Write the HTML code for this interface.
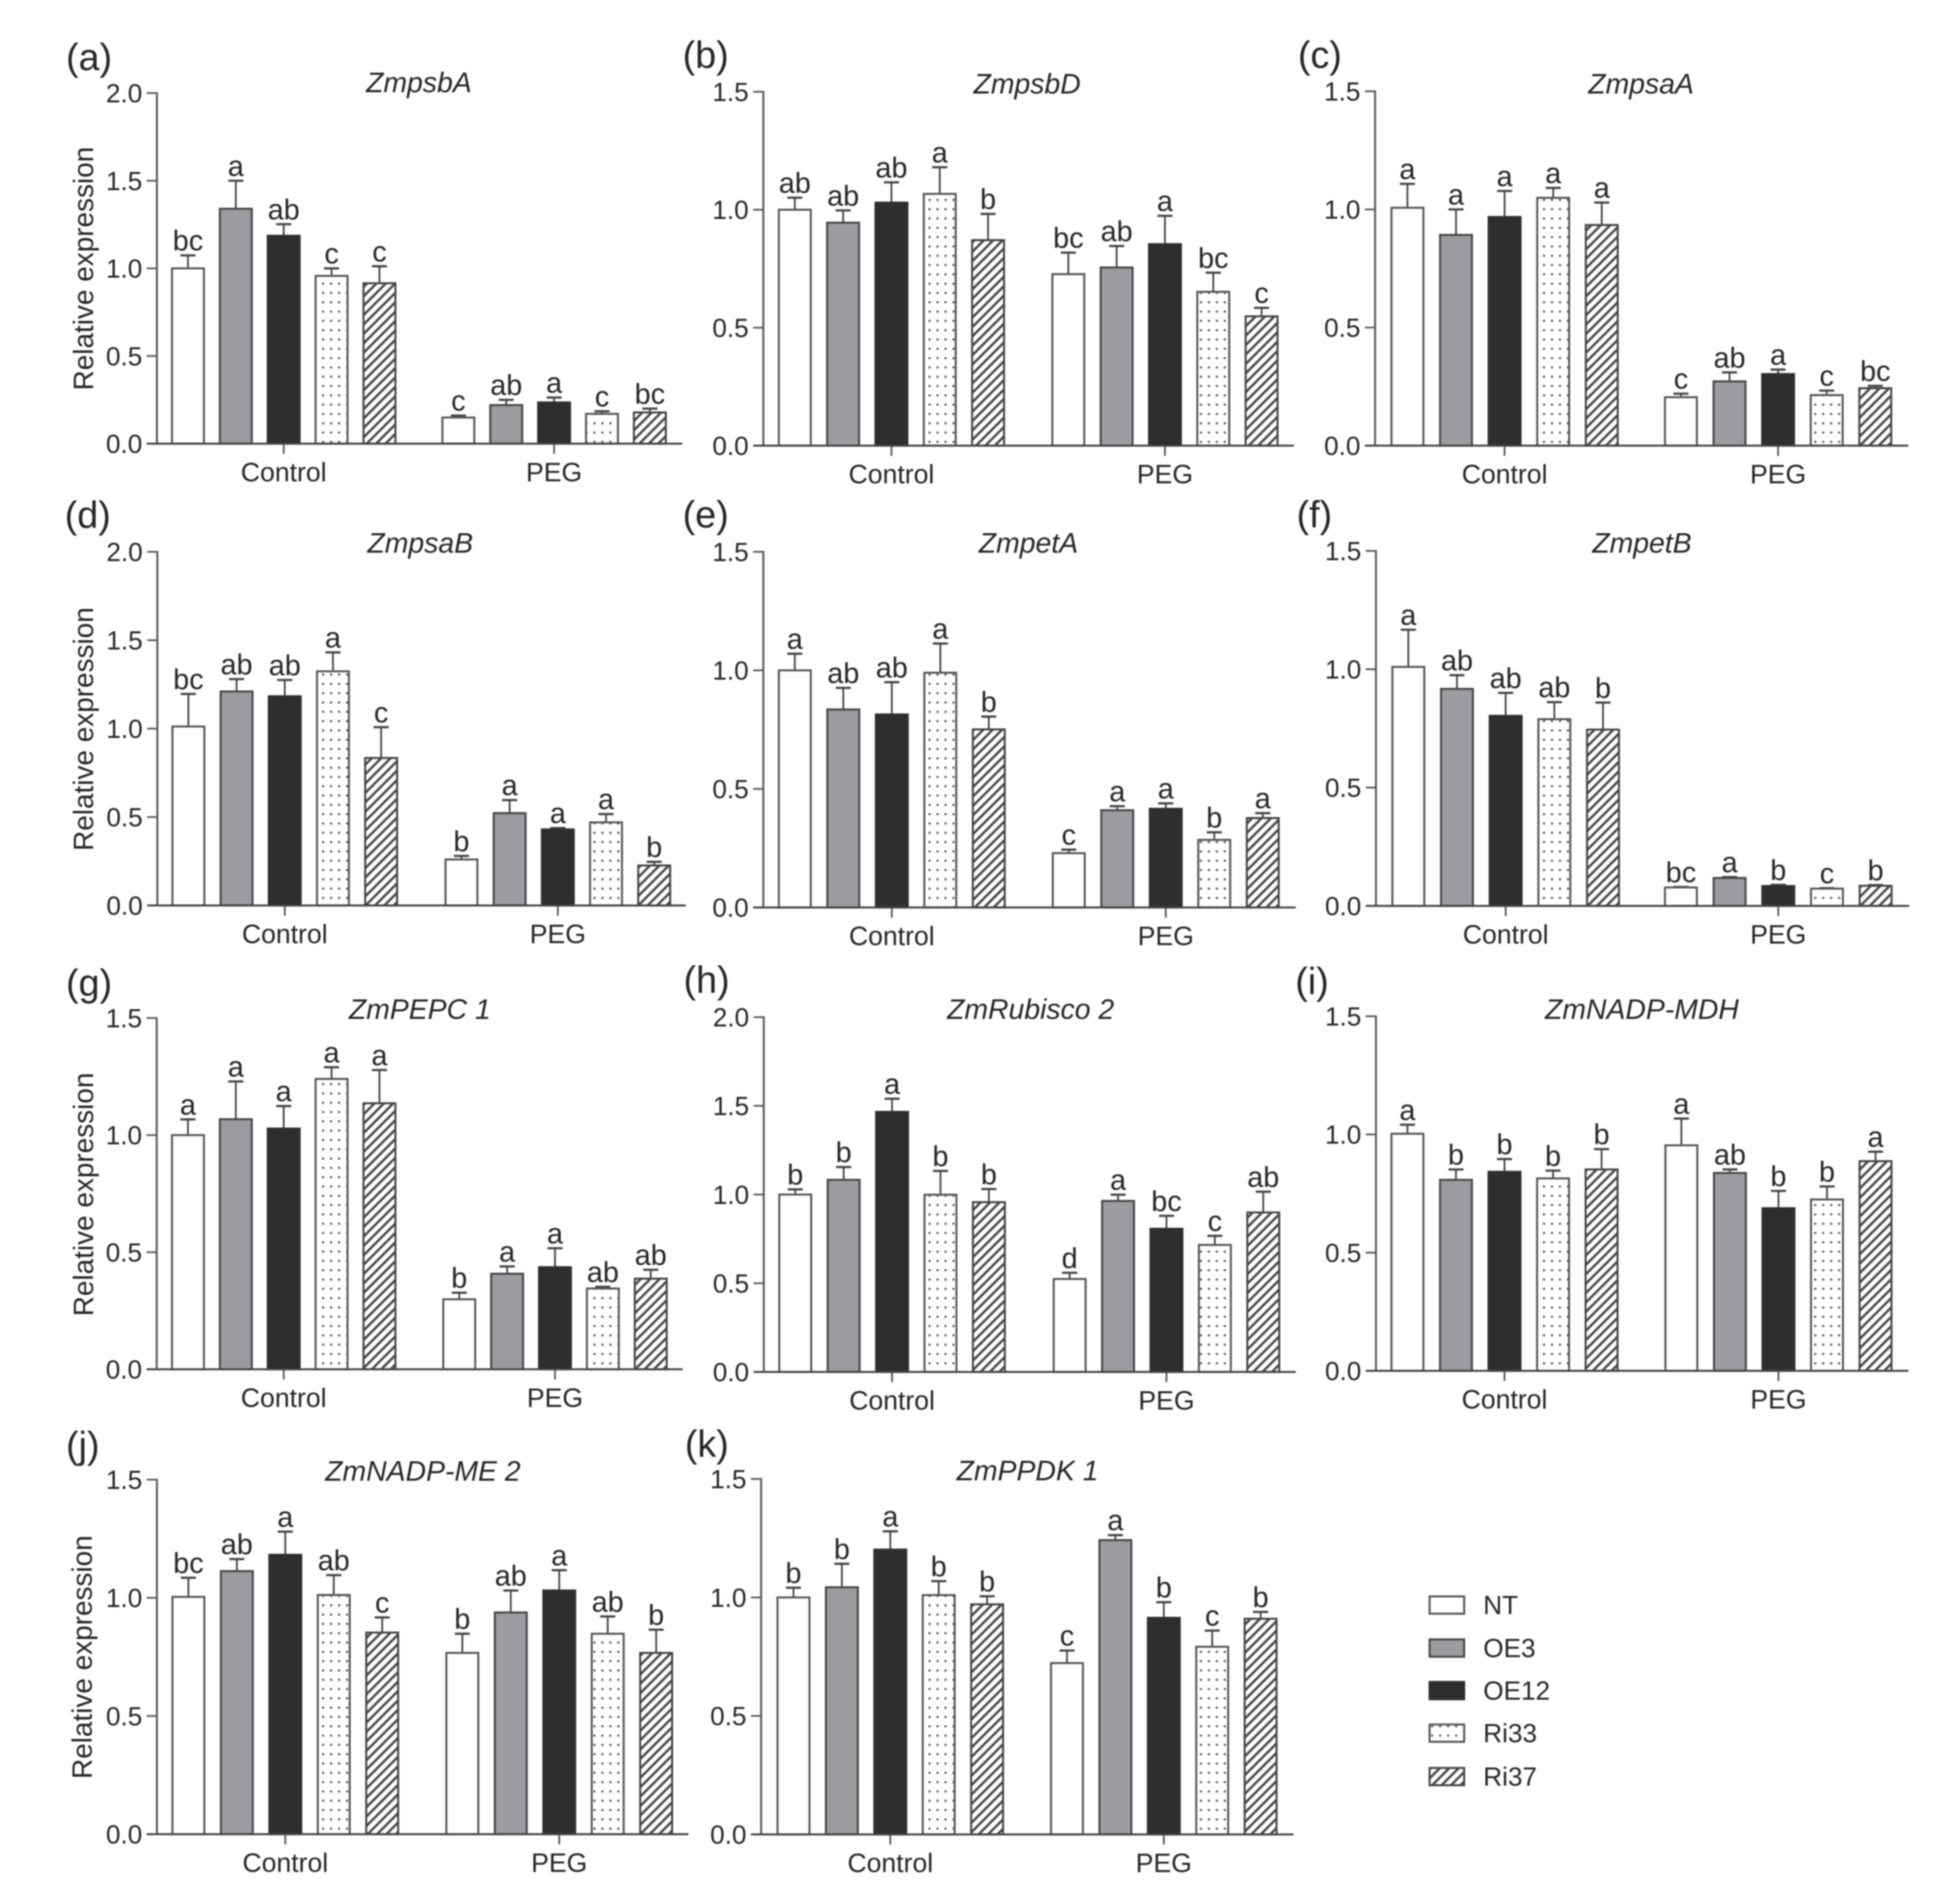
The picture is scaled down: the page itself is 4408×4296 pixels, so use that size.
<!DOCTYPE html>
<html lang="en">
<head>
<meta charset="utf-8">
<title>Relative expression of photosynthesis genes</title>
<style>
html,body{margin:0;padding:0;background:#fff;}
svg{display:block;filter:blur(1.6px);}
text{font-family:"Liberation Sans",sans-serif;fill:#262626;}
</style>
</head>
<body>
<svg id="figure" xmlns="http://www.w3.org/2000/svg" width="4408" height="4296" viewBox="0 0 4408 4296">
  <defs>
    <pattern id="dots" patternUnits="userSpaceOnUse" width="18" height="21">
      <rect width="18" height="21" fill="#fff"></rect>
      <circle cx="9" cy="10" r="2.6" fill="#555"></circle>
    </pattern>
    <pattern id="hatch" patternUnits="userSpaceOnUse" width="15" height="15" patternTransform="rotate(-45)">
      <rect width="15" height="15" fill="#fff"></rect>
      <rect x="0" y="0" width="15" height="5.5" fill="#4a4a4a"></rect>
    </pattern>
  </defs>
</svg>
<script>
const groupNames = ['Control', 'PEG'];
const seriesNames = ['NT', 'OE3', 'OE12', 'Ri33', 'Ri37'];
const ticksTo15 = [0, 0.5, 1, 1.5];
const ticksTo20 = [0, 0.5, 1, 1.5, 2];

const aControlMeans = [1.0, 1.34, 1.186, 0.957, 0.915];
const aControlUpper = [1.074, 1.5, 1.252, 1.0, 1.012];
const aControlLetters = ['bc', 'a', 'ab', 'c', 'c'];
const aPegMeans = [0.149, 0.22, 0.235, 0.17, 0.178];
const aPegUpper = [0.16, 0.25, 0.263, 0.185, 0.2];
const aPegLetters = ['c', 'ab', 'a', 'c', 'bc'];

const bControlMeans = [1.0, 0.945, 1.03, 1.067, 0.871];
const bControlUpper = [1.051, 0.997, 1.116, 1.18, 0.982];
const bControlLetters = ['ab', 'ab', 'ab', 'a', 'b'];
const bPegMeans = [0.727, 0.755, 0.854, 0.652, 0.548];
const bPegUpper = [0.818, 0.846, 0.974, 0.733, 0.584];
const bPegLetters = ['bc', 'ab', 'a', 'bc', 'c'];

const cControlMeans = [1.007, 0.892, 0.968, 1.049, 0.934];
const cControlUpper = [1.108, 1.0, 1.078, 1.091, 1.029];
const cControlLetters = ['a', 'a', 'a', 'a', 'a'];
const cPegMeans = [0.205, 0.272, 0.303, 0.214, 0.243];
const cPegUpper = [0.22, 0.31, 0.322, 0.233, 0.253];
const cPegLetters = ['c', 'ab', 'a', 'c', 'bc'];

const dControlMeans = [1.012, 1.21, 1.183, 1.324, 0.834];
const dControlUpper = [1.196, 1.28, 1.275, 1.431, 1.008];
const dControlLetters = ['bc', 'ab', 'ab', 'a', 'c'];
const dPegMeans = [0.26, 0.522, 0.43, 0.47, 0.226];
const dPegUpper = [0.28, 0.596, 0.438, 0.517, 0.247];
const dPegLetters = ['b', 'a', 'a', 'a', 'b'];

const eControlMeans = [1.0, 0.835, 0.814, 0.99, 0.751];
const eControlUpper = [1.07, 0.926, 0.95, 1.113, 0.805];
const eControlLetters = ['a', 'ab', 'ab', 'a', 'b'];
const ePegMeans = [0.229, 0.41, 0.416, 0.285, 0.377];
const ePegUpper = [0.244, 0.427, 0.439, 0.317, 0.398];
const ePegLetters = ['c', 'a', 'a', 'b', 'a'];

const fControlMeans = [1.01, 0.917, 0.803, 0.789, 0.745];
const fControlUpper = [1.167, 0.975, 0.9, 0.861, 0.859];
const fControlLetters = ['a', 'ab', 'ab', 'ab', 'b'];
const fPegMeans = [0.078, 0.118, 0.084, 0.073, 0.085];
const fPegUpper = [0.08, 0.122, 0.089, 0.075, 0.088];
const fPegLetters = ['bc', 'a', 'b', 'c', 'b'];

const gControlMeans = [1.0, 1.068, 1.028, 1.24, 1.136];
const gControlUpper = [1.067, 1.229, 1.124, 1.29, 1.278];
const gControlLetters = ['a', 'a', 'a', 'a', 'a'];
const gPegMeans = [0.299, 0.408, 0.436, 0.345, 0.387];
const gPegUpper = [0.327, 0.439, 0.517, 0.352, 0.425];
const gPegLetters = ['b', 'a', 'a', 'ab', 'ab'];

const hControlMeans = [1.0, 1.083, 1.466, 0.999, 0.957];
const hControlUpper = [1.029, 1.155, 1.54, 1.133, 1.031];
const hControlLetters = ['b', 'b', 'a', 'b', 'b'];
const hPegMeans = [0.524, 0.964, 0.807, 0.716, 0.899];
const hPegUpper = [0.559, 0.999, 0.88, 0.767, 1.016];
const hPegLetters = ['d', 'a', 'bc', 'c', 'ab'];

const iControlMeans = [1.003, 0.808, 0.842, 0.814, 0.852];
const iControlUpper = [1.041, 0.852, 0.896, 0.847, 0.938];
const iControlLetters = ['a', 'b', 'b', 'b', 'b'];
const iPegMeans = [0.954, 0.837, 0.688, 0.725, 0.887];
const iPegUpper = [1.067, 0.852, 0.761, 0.78, 0.927];
const iPegLetters = ['a', 'ab', 'b', 'b', 'a'];

const jControlMeans = [1.004, 1.113, 1.182, 1.012, 0.853];
const jControlUpper = [1.085, 1.164, 1.28, 1.096, 0.917];
const jControlLetters = ['bc', 'ab', 'a', 'ab', 'c'];
const jPegMeans = [0.767, 0.938, 1.031, 0.848, 0.767];
const jPegUpper = [0.848, 1.031, 1.117, 0.921, 0.865];
const jPegLetters = ['b', 'ab', 'a', 'ab', 'b'];

const kControlMeans = [1.0, 1.043, 1.202, 1.01, 0.971];
const kControlUpper = [1.041, 1.142, 1.279, 1.069, 1.005];
const kControlLetters = ['b', 'b', 'a', 'b', 'b'];
const kPegMeans = [0.723, 1.242, 0.914, 0.792, 0.91];
const kPegUpper = [0.776, 1.263, 0.98, 0.86, 0.939];
const kPegLetters = ['c', 'a', 'b', 'c', 'b'];

const panels = [
  {id:'a', gene:'ZmpsbA', ticks:ticksTo20, means:[aControlMeans,aPegMeans], upper:[aControlUpper,aPegUpper], letters:[aControlLetters,aPegLetters],
   box:{axisX:354,top:210,zero:1001,end:1539,start:[424,1034],step:108,titleX:945,titleY:208,tagX:149,tagY:158,yTitle:[210,606]}},
  {id:'b', gene:'ZmpsbD', ticks:ticksTo15, means:[bControlMeans,bPegMeans], upper:[bControlUpper,bPegUpper], letters:[bControlLetters,bPegLetters],
   box:{axisX:1722,top:207,zero:1005.5,end:2919,start:[1793,2410],step:109,titleX:2317,titleY:211,tagX:1540,tagY:153}},
  {id:'c', gene:'ZmpsaA', ticks:ticksTo15, means:[cControlMeans,cPegMeans], upper:[cControlUpper,cPegUpper], letters:[cControlLetters,cPegLetters],
   box:{axisX:3102,top:206,zero:1005.5,end:4305,start:[3175,3792],step:109.6,titleX:3702,titleY:211,tagX:2928,tagY:153}},
  {id:'d', gene:'ZmpsaB', ticks:ticksTo20, means:[dControlMeans,dPegMeans], upper:[dControlUpper,dPegUpper], letters:[dControlLetters,dPegLetters],
   box:{axisX:355,top:1245,zero:2043,end:1547,start:[425,1041],step:108.7,titleX:948,titleY:1247,tagX:146,tagY:1191,yTitle:[210,1645]}},
  {id:'e', gene:'ZmpetA', ticks:ticksTo15, means:[eControlMeans,ePegMeans], upper:[eControlUpper,ePegUpper], letters:[eControlLetters,ePegLetters],
   box:{axisX:1722,top:1245,zero:2047.5,end:2923,start:[1793,2411],step:109.4,titleX:2320,titleY:1247,tagX:1540,tagY:1190}},
  {id:'f', gene:'ZmpetB', ticks:ticksTo15, means:[fControlMeans,fPegMeans], upper:[fControlUpper,fPegUpper], letters:[fControlLetters,fPegLetters],
   box:{axisX:3104,top:1243,zero:2044,end:4307,start:[3177,3792],step:109.8,titleX:3704,titleY:1247,tagX:2925,tagY:1190}},
  {id:'g', gene:'ZmPEPC 1', ticks:ticksTo15, means:[gControlMeans,gPegMeans], upper:[gControlUpper,gPegUpper], letters:[gControlLetters,gPegLetters],
   box:{axisX:353.5,top:2297,zero:3089.5,end:1540,start:[424,1036],step:108,titleX:947,titleY:2299,tagX:149,tagY:2247,yTitle:[210,2695]}},
  {id:'h', gene:'ZmRubisco 2', ticks:ticksTo20, means:[hControlMeans,hPegMeans], upper:[hControlUpper,hPegUpper], letters:[hControlLetters,hPegLetters],
   box:{axisX:1723,top:2295,zero:3095.5,end:2923,start:[1794,2413],step:109.2,titleX:2325,titleY:2299,tagX:1542,tagY:2240}},
  {id:'i', gene:'ZmNADP-MDH', ticks:ticksTo15, means:[iControlMeans,iPegMeans], upper:[iControlUpper,iPegUpper], letters:[iControlLetters,iPegLetters],
   box:{axisX:3104,top:2293,zero:3093,end:4305,start:[3175,3793],step:109.5,titleX:3704,titleY:2299,tagX:2922,tagY:2243}},
  {id:'j', gene:'ZmNADP-ME 2', ticks:ticksTo15, means:[jControlMeans,jPegMeans], upper:[jControlUpper,jPegUpper], letters:[jControlLetters,jPegLetters],
   box:{axisX:354,top:3338.5,zero:4138.5,end:1553,start:[425,1043],step:109.3,titleX:954,titleY:3341,tagX:149,tagY:3290,yTitle:[207,3739]}},
  {id:'k', gene:'ZmPPDK 1', ticks:ticksTo15, means:[kControlMeans,kPegMeans], upper:[kControlUpper,kPegUpper], letters:[kControlLetters,kPegLetters],
   box:{axisX:1717,top:3337,zero:4139,end:2918,start:[1790,2407],step:109.2,titleX:2318,titleY:3340,tagX:1545,tagY:3287}}
];

const barFill = ['#fff', '#9c9ca0', '#2e2e2e', 'url(#dots)', 'url(#hatch)'];
const barLine = ['#555', '#454545', '#2e2e2e', '#555', '#444'];
const legendTop = [3602, 3699, 3795, 3891, 3989];

const SVG_NS = 'http://www.w3.org/2000/svg';
const fig = document.getElementById('figure');

function make(tag, parent, attrs, content) {
  const el = document.createElementNS(SVG_NS, tag);
  for (const k in attrs) el.setAttribute(k, attrs[k]);
  if (content !== undefined) el.textContent = content;
  parent.appendChild(el);
  return el;
}

function drawPanel(p) {
  const b = p.box;
  const maxTick = p.ticks[p.ticks.length - 1];
  const yOf = function (v) { return b.zero - (v / maxTick) * (b.zero - b.top); };
  const xOf = function (g, s) { return b.start[g] + s * b.step; };

  const g = make('g', fig, {});
  
  

  const tag = make('text', g, {x:b.tagX, y:b.tagY, 'font-size':85}, '(' + p.id + ')');
  
  

  const title = make('text', g, {x:b.titleX, y:b.titleY, 'font-size':64, 'font-style':'italic', 'text-anchor':'middle'}, p.gene);
  
  

  if (b.yTitle) {
    const yt = make('text', g, {x:0, y:0, 'font-size':63, 'text-anchor':'middle', transform:'translate(' + b.yTitle[0] + ' ' + b.yTitle[1] + ') rotate(-90)'}, 'Relative expression');
    
    
  }

  groupNames.forEach(function (groupName, gi) {
    seriesNames.forEach(function (seriesName, si) {
      const cx = xOf(gi, si);
      const mean = p.means[gi][si];
      const upper = p.upper[gi][si];
      const yMean = yOf(mean);
      const yUp = yOf(upper);
      const key = p.id + '-' + groupName.toLowerCase() + '-' + seriesName.toLowerCase();

      const stem = make('line', g, {x1:cx, x2:cx, y1:yMean, y2:yUp, stroke:'#444', 'stroke-width':4});
      
      
      const cap = make('line', g, {x1:cx - 17, x2:cx + 17, y1:yUp, y2:yUp, stroke:'#444', 'stroke-width':5});
      
      

      const bar = make('rect', g, {x:cx - 36, y:yMean, width:72, height:b.zero - yMean, fill:barFill[si], stroke:barLine[si], 'stroke-width':4.5});
      
      

      const letter = make('text', g, {x:cx, y:yUp - 11, 'font-size':65, 'text-anchor':'middle'}, p.letters[gi][si]);
      
      
    });

    const tickX = xOf(gi, 2);
    const xTick = make('line', g, {x1:tickX, x2:tickX, y1:b.zero, y2:b.zero + 23, stroke:'#555', 'stroke-width':4});
    
    
    const xLabel = make('text', g, {x:tickX, y:b.zero + 85, 'font-size':60, 'text-anchor':'middle'}, groupName);
    
    
  });

  const yAxis = make('line', g, {x1:b.axisX, x2:b.axisX, y1:b.top - 2, y2:b.zero, stroke:'#5a5a5a', 'stroke-width':4.5});
  
  
  const xAxis = make('line', g, {x1:b.axisX - 23, x2:b.end, y1:b.zero, y2:b.zero, stroke:'#444', 'stroke-width':4.5});
  
  

  p.ticks.forEach(function (t) {
    const y = yOf(t);
    if (t !== 0) {
      const tick = make('line', g, {x1:b.axisX - 23, x2:b.axisX, y1:y, y2:y, stroke:'#5a5a5a', 'stroke-width':4});
      
      
    }
    const label = make('text', g, {x:b.axisX - 33, y:y + 21, 'font-size':59, 'text-anchor':'end', fill:'#3a3a3a'}, t.toFixed(1));
    
    
  });
}

panels.forEach(drawPanel);

const legend = make('g', fig, {});


seriesNames.forEach(function (name, i) {
  const swatch = make('rect', legend, {x:3225, y:legendTop[i], width:78, height:39, fill:barFill[i], stroke:barLine[i], 'stroke-width':4.5});
  
  
  const text = make('text', legend, {x:3346, y:legendTop[i] + 40, 'font-size':59}, name);
  
  
});
</script>
</body>
</html>
